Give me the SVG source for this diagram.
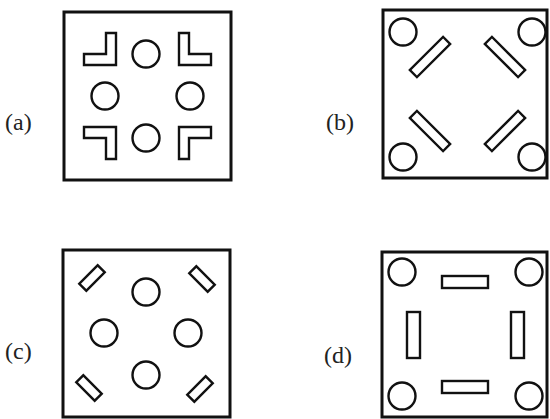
<svg xmlns="http://www.w3.org/2000/svg" width="550" height="419" viewBox="0 0 550 419">
<style>
.frame{fill:none;stroke:#111;stroke-width:3}
.sh{fill:none;stroke:#111;stroke-width:2.4}
.lbl{font-family:"Liberation Serif","Times New Roman",serif;font-size:24px;fill:#222}
</style>
<rect width="550" height="419" fill="#fff"/>
<g id="fig-a">
<rect class="frame" x="64" y="12" width="167" height="168"/>
<path class="sh" d="M106,33 H116 V65 H84 V54 H106 Z"/>
<path class="sh" d="M179,33 H189 V54 H211 V65 H179 Z"/>
<path class="sh" d="M84,127 H116 V159 H106 V138 H84 Z"/>
<path class="sh" d="M179,127 H211 V138 H189 V159 H179 Z"/>
<circle class="sh" cx="146" cy="54" r="13.5"/>
<circle class="sh" cx="105" cy="96" r="13.5"/>
<circle class="sh" cx="190" cy="96" r="13.5"/>
<circle class="sh" cx="146" cy="138" r="13.5"/>
<text class="lbl" x="5" y="130">(a)</text>
</g>
<g id="fig-b">
<rect class="frame" x="383" y="10" width="164" height="168"/>
<circle class="sh" cx="403" cy="32" r="13.5"/>
<circle class="sh" cx="532" cy="32" r="13.5"/>
<circle class="sh" cx="403" cy="157" r="13.5"/>
<circle class="sh" cx="532" cy="157" r="13.5"/>
<rect class="sh" x="-23.5" y="-5" width="47" height="10" transform="translate(430,57) rotate(-45)"/>
<rect class="sh" x="-23.5" y="-5" width="47" height="10" transform="translate(505,57) rotate(45)"/>
<rect class="sh" x="-23.5" y="-5" width="47" height="10" transform="translate(430,131) rotate(45)"/>
<rect class="sh" x="-23.5" y="-5" width="47" height="10" transform="translate(505,131) rotate(-45)"/>
<text class="lbl" x="326" y="130">(b)</text>
</g>
<g id="fig-c">
<rect class="frame" x="63" y="250" width="167" height="167"/>
<circle class="sh" cx="146" cy="292" r="13.5"/>
<circle class="sh" cx="104" cy="333" r="13.5"/>
<circle class="sh" cx="188" cy="333" r="13.5"/>
<circle class="sh" cx="146" cy="375" r="13.5"/>
<rect class="sh" x="-13" y="-5" width="26" height="10" transform="translate(92,278) rotate(-45)"/>
<rect class="sh" x="-13" y="-5" width="26" height="10" transform="translate(202,279) rotate(45)"/>
<rect class="sh" x="-13" y="-5" width="26" height="10" transform="translate(89,388) rotate(45)"/>
<rect class="sh" x="-13" y="-5" width="26" height="10" transform="translate(200,389) rotate(-45)"/>
<text class="lbl" x="5" y="359">(c)</text>
</g>
<g id="fig-d">
<rect class="frame" x="382" y="252" width="165" height="165"/>
<circle class="sh" cx="402" cy="272" r="13.5"/>
<circle class="sh" cx="529" cy="272" r="13.5"/>
<circle class="sh" cx="402" cy="396" r="13.5"/>
<circle class="sh" cx="529" cy="396" r="13.5"/>
<rect class="sh" x="442" y="276" width="46" height="12"/>
<rect class="sh" x="442" y="381" width="46" height="12"/>
<rect class="sh" x="407" y="312" width="13" height="46"/>
<rect class="sh" x="511" y="312" width="13" height="46"/>
<text class="lbl" x="324" y="363">(d)</text>
</g>
<g id="connectors"/>
</svg>
